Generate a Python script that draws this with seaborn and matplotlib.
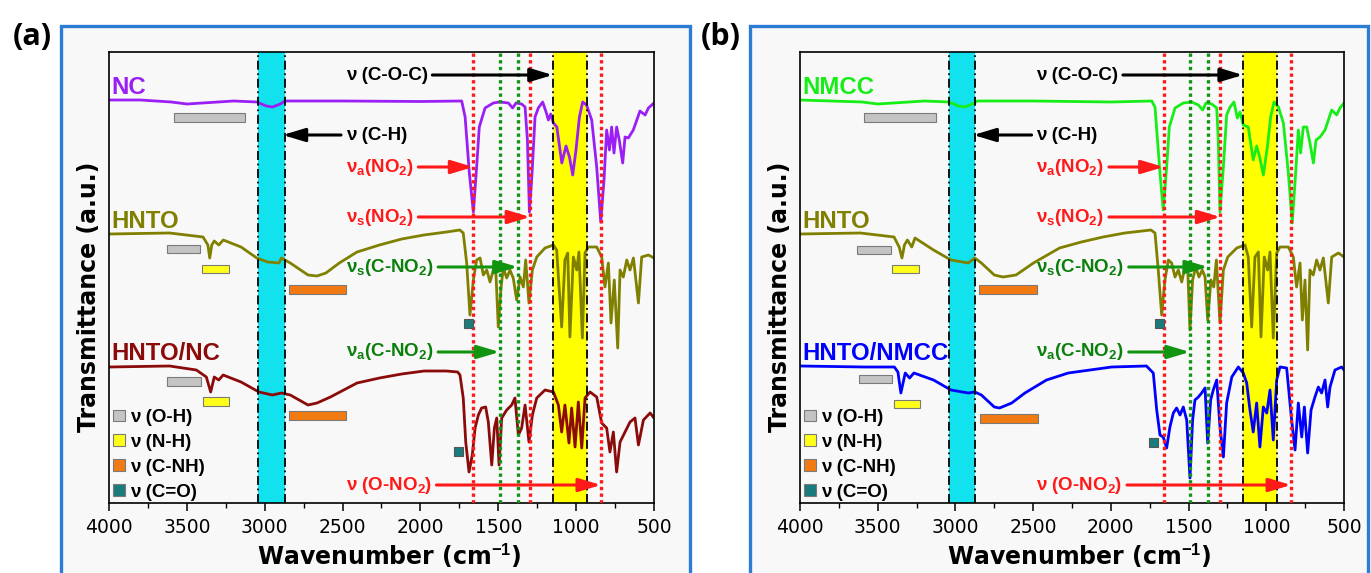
import matplotlib
matplotlib.use('Agg')
import matplotlib.pyplot as plt
import seaborn as sns
import pandas as pd
from matplotlib.patches import Rectangle, Patch
from matplotlib.ticker import MultipleLocator

# ---------------- data (wavenumber in cm-1, transmittance in a.u., stacked) ----------------
NC_WN = [4000, 3800, 3600, 3500, 3400, 3200, 3050, 2990, 2950, 2900, 2870, 2500, 2000, 1735, 1713, 1686,
         1660, 1639, 1622, 1585, 1532, 1489, 1435, 1408, 1386, 1350, 1328, 1313, 1300, 1283, 1264, 1243,
         1215, 1193, 1178, 1163, 1146, 1124, 1092, 1065, 1043, 1022, 1001, 979, 958, 933, 900, 868, 842,
         821, 804, 786, 772, 757, 740, 723, 701, 686, 665, 633, 590, 557, 536, 500]
NC_T = [403, 403, 401, 399, 400, 402, 401, 397, 396, 399, 402, 402, 401.5, 402, 386, 330,
        291, 336, 376, 395, 400, 401, 400, 395, 400, 399, 396, 363, 291, 330, 386, 395,
        401, 391, 383, 389, 380, 376, 340, 357, 346, 328, 353, 386, 401, 398, 383, 336, 281,
        323, 373, 353, 376, 350, 376, 363, 340, 366, 365, 373, 392, 388, 395, 400]

HNTO_A_WN = [4000, 3611, 3396, 3365, 3353, 3340, 3324, 3295, 3266, 3152, 3051, 2980, 2908, 2893, 2836, 2722,
             2664, 2607, 2521, 2407, 2263, 2120, 1977, 1833, 1747, 1725, 1703, 1682, 1660, 1639, 1617, 1596,
             1574, 1553, 1532, 1517, 1500, 1482, 1468, 1446, 1425, 1404, 1382, 1360, 1339, 1324, 1303, 1281,
             1253, 1200, 1146, 1125, 1093, 1072, 1054, 1040, 1018, 996, 982, 960, 943, 922, 868, 836, 815,
             793, 776, 755, 733, 718, 697, 675, 654, 632, 600, 579, 536, 500]
HNTO_A_T = [269, 270, 266, 258, 245, 258, 262, 258, 263, 256, 245, 241, 240, 245, 240, 228,
            227, 230, 240, 251, 258, 264, 268, 271, 273, 270, 240, 188, 223, 243, 245, 228,
            233, 221, 233, 236, 176, 216, 235, 225, 233, 225, 203, 226, 216, 243, 200, 233,
            246, 255, 258, 253, 176, 243, 250, 166, 246, 233, 251, 165, 250, 256, 256, 246, 216,
            240, 180, 223, 155, 233, 226, 243, 233, 245, 200, 246, 248, 245]

HNTO_NC_WN = [4000, 3611, 3439, 3375, 3347, 3324, 3295, 3267, 3152, 3037, 2951, 2893, 2836, 2722, 2664, 2578,
              2407, 2263, 2120, 1977, 1833, 1761, 1746, 1725, 1709, 1688, 1667, 1649, 1628, 1607, 1581, 1564,
              1542, 1525, 1510, 1495, 1478, 1446, 1414, 1393, 1371, 1350, 1328, 1303, 1281, 1253, 1200, 1146,
              1114, 1093, 1072, 1046, 1029, 1007, 986, 964, 943, 911, 868, 836, 804, 783, 761, 740, 718, 686,
              654, 622, 600, 568, 525, 500]
HNTO_NC_T = [136, 137, 133, 126, 111, 126, 123, 128, 121, 111, 108, 110, 108, 98, 100, 106,
             120, 125, 129, 132, 132, 131, 128, 105, 61, 31, 48, 75, 88, 95, 96, 81,
             38, 75, 85, 38, 85, 93, 98, 105, 68, 75, 98, 61, 88, 105, 113, 111,
             98, 71, 98, 60, 95, 56, 101, 55, 105, 111, 106, 80, 75, 51, 71, 31, 61, 71,
             81, 85, 58, 83, 90, 85]

NMCC_WN = [4000, 3800, 3600, 3500, 3400, 3200, 3040, 2980, 2940, 2890, 2860, 2500, 2000, 1737, 1716, 1684,
           1663, 1641, 1624, 1587, 1534, 1480, 1437, 1409, 1388, 1351, 1319, 1309, 1298, 1276, 1255, 1233,
           1208, 1186, 1169, 1148, 1116, 1084, 1062, 1041, 1019, 993, 972, 950, 922, 890, 858, 833, 811,
           794, 779, 762, 740, 719, 697, 680, 654, 622, 579, 547, 526, 500]
NMCC_T = [403, 402, 401, 399, 400, 402, 401, 397, 396, 399, 402, 402, 401, 402, 396, 330,
          293, 336, 376, 395, 400, 401, 398, 393, 400, 399, 395, 363, 291, 336, 388, 396,
          401, 385, 391, 378, 376, 343, 357, 345, 328, 356, 386, 401, 396, 380, 330, 280, 330,
          373, 350, 376, 376, 360, 340, 363, 366, 373, 393, 388, 395, 400]

HNTO_B_WN = [4000, 3611, 3395, 3362, 3344, 3328, 3309, 3281, 3260, 3141, 3029, 2917, 2875, 2833, 2750, 2694,
             2610, 2498, 2330, 2190, 2050, 1910, 1742, 1716, 1695, 1673, 1652, 1630, 1609, 1587, 1566, 1544,
             1523, 1506, 1491, 1474, 1454, 1433, 1412, 1394, 1377, 1356, 1338, 1321, 1298, 1276, 1248, 1190,
             1137, 1116, 1094, 1073, 1051, 1034, 1013, 991, 976, 955, 933, 912, 858, 826, 805, 783, 768, 751,
             734, 719, 698, 676, 655, 633, 601, 579, 536, 500]
HNTO_B_T = [269, 270, 266, 256, 245, 258, 263, 256, 265, 253, 243, 240, 245, 240, 228, 226,
            228, 240, 255, 261, 266, 270, 273, 270, 233, 188, 223, 243, 240, 226, 233, 221,
            236, 236, 173, 223, 236, 226, 233, 226, 183, 223, 216, 243, 180, 233, 246, 255,
            258, 246, 176, 246, 251, 166, 246, 233, 251, 165, 250, 256, 256, 246, 216, 240, 183, 223,
            153, 233, 228, 243, 233, 245, 200, 246, 250, 246]

HNTO_NMCC_WN = [4000, 3588, 3393, 3370, 3351, 3323, 3295, 3267, 3141, 3029, 2917, 2875, 2833, 2750, 2716, 2638,
                2553, 2414, 2274, 2134, 1995, 1771, 1727, 1705, 1684, 1663, 1641, 1620, 1598, 1577, 1555, 1534,
                1512, 1491, 1474, 1459, 1437, 1416, 1394, 1377, 1358, 1341, 1319, 1298, 1276, 1255, 1222, 1180,
                1148, 1126, 1105, 1084, 1062, 1041, 1019, 997, 976, 955, 933, 912, 869, 837, 815, 794, 772, 755,
                734, 712, 687, 665, 644, 622, 605, 590, 558, 515, 500]
HNTO_NMCC_T = [137, 136, 136, 131, 110, 130, 125, 130, 123, 113, 110, 111, 108, 96, 95, 100,
               110, 123, 130, 133, 136, 137, 130, 93, 68, 66, 55, 76, 90, 95, 88, 96,
               83, 25, 83, 103, 106, 110, 115, 60, 103, 113, 123, 76, 46, 100, 126, 136,
               130, 120, 93, 71, 100, 56, 96, 90, 113, 63, 123, 136, 135, 83, 53, 100, 66, 96,
               50, 93, 106, 116, 110, 123, 96, 116, 133, 136, 133]

SERIES_A = ['NC', 'HNTO', 'HNTO/NC']
SERIES_B = ['NMCC', 'HNTO', 'HNTO/NMCC']

# band assignments (cm-1)
RED_LINES = [1660, 1295, 840]
GREEN_LINES = [1492, 1375]
YELLOW_BAND = (928, 1150)
CYAN_BAND = (2872, 3040)
BAND_LABELS = ['ν (O-H)', 'ν (N-H)', 'ν (C-NH)', 'ν (C=O)']
# horizontal marker bars (start, end) per series
A_OH = [(3582, 3126), (3630, 3415), (3625, 3410)]
A_NH = [None, (3405, 3232), (3396, 3232)]
A_CNH = [None, (2847, 2480), (2844, 2478)]
A_CO = [None, 1694, 1755]
B_OH = [(3588, 3127), (3631, 3415), (3622, 3408)]
B_NH = [None, (3408, 3234), (3393, 3225)]
B_CNH = [None, (2848, 2478), (2839, 2470)]
B_CO = [None, 1690, 1724]

ANNOT_TEXT = ['ν (C-O-C)', 'ν (C-H)', r'ν$_{\mathrm{a}}$(NO$_{\mathrm{2}}$)', r'ν$_{\mathrm{s}}$(NO$_{\mathrm{2}}$)',
              r'ν$_{\mathrm{s}}$(C-NO$_{\mathrm{2}}$)', r'ν$_{\mathrm{a}}$(C-NO$_{\mathrm{2}}$)', r'ν (O-NO$_{\mathrm{2}}$)']
ANNOT_TARGET = [1150, 2885, 1660, 1295, 1375, 1492, 840]

# ---------------- style / layout ----------------
sns.set_theme(style='white')
plt.rcParams['font.family'] = ['DejaVu Sans']
plt.rcParams['text.color'] = 'black'
plt.rcParams['axes.labelcolor'] = 'black'
plt.rcParams['mathtext.fontset'] = 'custom'
plt.rcParams['mathtext.rm'] = 'Liberation Sans:bold'
plt.rcParams['mathtext.bf'] = 'Liberation Sans:bold'
plt.rcParams['mathtext.it'] = 'Liberation Sans:bold:italic'

W, H = 1371, 573
BG = '#f8f8f8'
FRAME_BLUE = '#2c7bd4'
RED = '#ff1a1a'
GREEN = '#119511'
GREEN_TXT = '#0b7f0b'
LABEL_FONT = 'Liberation Sans'

fig = plt.figure(figsize=(W / 100, H / 100), dpi=100)
fig.patch.set_facecolor('white')


def fr(l, t, r, b):
    return [l / W, 1 - b / H, (r - l) / W, (b - t) / H]


# blue frames
for (l, r) in [(61, 690), (750, 1368)]:
    fig.add_artist(Rectangle((l / W, -0.1), (r - l) / W, 1.1 - 26 / H, transform=fig.transFigure,
                             facecolor=BG, edgecolor=FRAME_BLUE, lw=2.4, zorder=-5))
fig.text(32 / W, 1 - 37 / H, '(a)', ha='center', va='center', fontsize=22, fontweight='bold',
         family='Open Sans', color='black')
fig.text(721 / W, 1 - 37 / H, '(b)', ha='center', va='center', fontsize=22, fontweight='bold',
         family='Open Sans', color='black')

ax_a = fig.add_axes(fr(109, 51.5, 654, 503))
ax_b = fig.add_axes(fr(800, 51.5, 1344, 503))

LABEL_Y = [415, 281, 150]
ANNOT_Y = [428, 368, 336, 286, 236, 151, 18]
ANNOT_COL = ['black', 'black', RED, RED, GREEN_TXT, GREEN_TXT, RED]
ARROW_COL = ['black', 'black', RED, RED, GREEN, GREEN, RED]

panels = [
    dict(ax=ax_a, names=SERIES_A, colors=['#9b1ff5', '#808000', '#8b0a0a'],
         data=[(NC_WN, NC_T), (HNTO_A_WN, HNTO_A_T), (HNTO_NC_WN, HNTO_NC_T)],
         oh=A_OH, nh=A_NH, cnh=A_CNH, co=A_CO,
         oh_y=[385.5, 254, 121.7], nh_y=[None, 234, 101.7], cnh_y=[None, 213.5, 87.5], co_y=[None, 180, 52]),
    dict(ax=ax_b, names=SERIES_B, colors=['#17ee17', '#808000', '#0000ff'],
         data=[(NMCC_WN, NMCC_T), (HNTO_B_WN, HNTO_B_T), (HNTO_NMCC_WN, HNTO_NMCC_T)],
         oh=B_OH, nh=B_NH, cnh=B_CNH, co=B_CO,
         oh_y=[385.6, 253, 124], nh_y=[None, 234, 99], cnh_y=[None, 213.5, 84.7], co_y=[None, 180, 61]),
]

BAR_H = 8.5
BAR_COLORS = {'oh': '#c4c4c4', 'nh': '#ffff1a', 'cnh': '#f27a12', 'co': '#1a7b7d'}

for p in panels:
    ax = p['ax']
    ax.set_facecolor(BG)
    # shaded bands
    ax.axvspan(*YELLOW_BAND, color='#ffff00', lw=0, zorder=0.5)
    ax.axvspan(*CYAN_BAND, color='#12e2ee', lw=0, zorder=0.5)
    for xv in list(YELLOW_BAND) + list(CYAN_BAND):
        ax.axvline(xv, color='black', lw=1.3, ls=(0, (5, 2, 1, 2)), zorder=3)
    # spectra
    for (wn, t), name, col in zip(p['data'], p['names'], p['colors']):
        df = pd.DataFrame({'wn': wn, 't': t})
        sns.lineplot(data=df, x='wn', y='t', ax=ax, color=col, lw=2.0, estimator=None, sort=False, zorder=2)
    # dotted assignment lines
    for xv in RED_LINES:
        ax.axvline(xv, color=RED, lw=2.4, ls=(0, (1, 1.0)), zorder=3.5)
    for xv in GREEN_LINES:
        ax.axvline(xv, color=GREEN, lw=2.4, ls=(0, (1, 1.0)), zorder=3.5)
    # series names
    for name, col, yy in zip(p['names'], p['colors'], LABEL_Y):
        ax.text(3985, yy, name, color=col, fontsize=17.3, fontweight='bold', family=LABEL_FONT,
                ha='left', va='center', zorder=5)
    # marker bars
    for key, ykey in [('oh', 'oh_y'), ('nh', 'nh_y'), ('cnh', 'cnh_y')]:
        for rng, yy in zip(p[key], p[ykey]):
            if rng is None:
                continue
            lo, hi = min(rng), max(rng)
            ax.add_patch(Rectangle((lo, yy - BAR_H / 2), hi - lo, BAR_H, facecolor=BAR_COLORS[key],
                                   edgecolor='#7a7a7a', lw=0.8, zorder=4))
    for xc, yy in zip(p['co'], p['co_y']):
        if xc is None:
            continue
        ax.add_patch(Rectangle((xc - 29, yy - 4.5), 58, 9, facecolor=BAR_COLORS['co'],
                               edgecolor='#555555', lw=0.8, zorder=4))
    # annotations with arrows
    for txt, tgt, yy, tc, acol in zip(ANNOT_TEXT, ANNOT_TARGET, ANNOT_Y, ANNOT_COL, ARROW_COL):
        left = tgt > 2480
        ax.annotate(txt, xy=(tgt, yy), xytext=(2480, yy), ha='left', va='center', color=tc,
                    fontsize=13.5, fontweight='bold', family=LABEL_FONT, zorder=6,
                    arrowprops=dict(arrowstyle='-|>,head_length=1.0,head_width=0.3', color=acol, lw=2.2,
                                    shrinkA=1, shrinkB=0, relpos=(0, 0.5) if left else (1, 0.5)))
    # legend of band markers
    handles = [Patch(facecolor=BAR_COLORS[k], edgecolor='#7a7a7a', lw=0.8) for k in ['oh', 'nh', 'cnh', 'co']]
    leg = ax.legend(handles, BAND_LABELS, loc='lower left', bbox_to_anchor=(0.004, 0.0), frameon=False,
                    prop=dict(family=LABEL_FONT, weight='bold', size=13.5), handlelength=0.6, handleheight=0.6,
                    handletextpad=0.3, labelspacing=0.42, borderaxespad=0.0, borderpad=0.12,
                    labelcolor='black')
    leg.set_zorder(7)
    # axes
    ax.set_xlim(4000, 500)
    ax.set_ylim(0, 451.5)
    ax.set_yticks([])
    ax.xaxis.set_major_locator(MultipleLocator(500))
    ax.xaxis.set_minor_locator(MultipleLocator(250))
    ax.tick_params(axis='x', which='major', direction='out', length=6, width=1.1, color='black',
                   bottom=True, pad=5, labelsize=13.5, labelcolor='black')
    ax.tick_params(axis='x', which='minor', direction='out', length=3.5, width=1.0, color='black', bottom=True)
    for sp in ax.spines.values():
        sp.set_visible(True)
        sp.set_color('black')
        sp.set_linewidth(1.2)
    ax.set_xlabel('Wavenumber (cm$^{\\mathbf{-1}}$)', fontsize=17, fontweight='bold', color='black')
    ax.set_ylabel('Transmittance (a.u.)', fontsize=17, fontweight='bold', color='black')
    ax.xaxis.set_label_coords(0.514, -0.085)
    ax.yaxis.set_label_coords(-0.014, 0.457)

fig.savefig('out.png', dpi=100)
